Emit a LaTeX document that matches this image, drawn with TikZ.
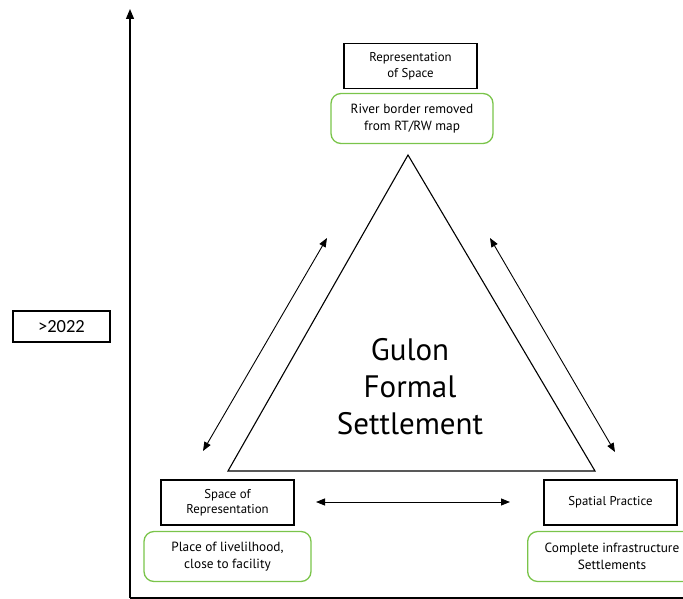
\documentclass[tikz,border=0pt]{standalone}
\usepackage{fontspec}
\setmainfont{PT Sans}
\newfontfamily\calfont{Carlito}
\usetikzlibrary{arrows.meta}
\definecolor{lgreen}{RGB}{122,196,74}
\tikzset{
  blackbox/.style={draw=black, line width=1.2pt, minimum width=133pt, minimum height=45pt, inner sep=0pt, align=center, font=\fontsize{12.8}{15.5}\selectfont},
  greenbox/.style={draw=lgreen, line width=1.3pt, rounded corners=10pt, minimum height=50pt, inner sep=0pt, align=center, font=\fontsize{13.3}{16.5}\selectfont},
  dbl/.style={line width=0.9pt, {Triangle[length=9pt,width=7pt]}-{Triangle[length=9pt,width=7pt]}},
}
\begin{document}
\begin{tikzpicture}[x=1pt,y=-1pt]
\useasboundingbox (0,0) rectangle (683,599);
\clip (0,0) rectangle (683,599);
% axes
\coordinate (origin) at (130,598);
\coordinate (ytop) at (130,9);
\coordinate (xend) at (690,598);
\draw[line width=1.2pt, -{Triangle[length=10pt,width=8pt]}] (origin) -- (ytop);
\draw[line width=1.2pt] (origin) -- (xend);
% year box
\node[draw=black, line width=1.2pt, minimum width=97pt, minimum height=31pt, inner sep=0pt, font=\calfont\fontsize{18.5}{20}\selectfont] (year) at (61.5,326.5) {>2022};
% triangle
\coordinate (apex) at (408,155);
\coordinate (bl) at (228,471);
\coordinate (br) at (595,471);
\draw[line width=1.1pt] (apex) -- (bl) -- (br) -- cycle;
\node[align=center, font=\fontsize{31}{37}\selectfont] (title) at (410,387) {Gulon\\Formal\\Settlement};
% boxes
\node[blackbox] (ros) at (410.5,66) {Representation\\of Space};
\node[greenbox, minimum width=162pt] (rosg) at (412,118.5) {River border removed\\from RT/RW map};
\node[blackbox] (sor) at (227.5,502.5) {Space of\\Representation};
\node[greenbox, minimum width=167pt] (sorg) at (227.5,556.5) {Place of livelilhood,\\close to facility};
\node[blackbox] (sp) at (610.5,502.5) {Spatial Practice};
\node[greenbox, minimum width=172pt, anchor=west] (spg) at (527,556.5) {};
\node[align=center, font=\fontsize{13.3}{16.5}\selectfont] (spgt) at (612,556.5) {Complete infrastructure\\Settlements};
% arrows
\coordinate (la1) at (327,238);
\coordinate (la2) at (203,451);
\coordinate (ra1) at (490,238);
\coordinate (ra2) at (615,452);
\coordinate (ba1) at (316,502);
\coordinate (ba2) at (510,502);
\draw[dbl] (la1) -- (la2);
\draw[dbl] (ra1) -- (ra2);
\draw[dbl] (ba1) -- (ba2);
\end{tikzpicture}
\end{document}
